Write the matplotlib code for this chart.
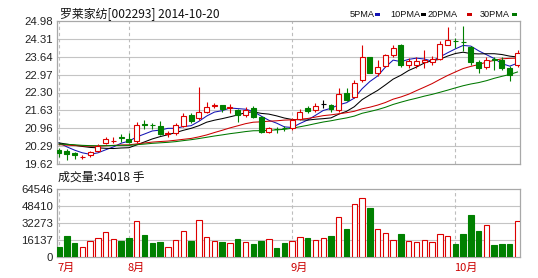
import numpy as np
import pandas as pd
import matplotlib
matplotlib.use("Agg")
import matplotlib.pyplot as plt
from matplotlib.patches import Rectangle

plt.rcParams['font.family'] = ['Noto Sans CJK SC', 'DejaVu Sans']

# ---- data -------------------------------------------------------------
title = "罗莱家纺[002293] 2014-10-20"
opens = [20.14, 20.11, 20.04, 19.88, 19.96, 20.12, 20.42, 20.48, 20.62, 20.56,
         20.50, 21.12, 21.09, 21.04, 20.76, 20.77, 21.06, 21.46, 21.33, 21.56,
         21.80, 21.83, 21.73, 21.64, 21.46, 21.71, 21.39, 20.83, 20.94, 20.98,
         20.96, 21.30, 21.73, 21.64, 21.87, 21.83, 21.64, 22.29, 22.14, 22.77,
         23.62, 23.02, 23.29, 23.71, 24.08, 23.33, 23.32, 23.44, 23.44, 23.56,
         24.09, 24.24, 24.20, 24.01, 23.44, 23.24, 23.54, 23.53, 23.22, 23.34]
highs = [20.21, 20.18, 20.08, 19.96, 20.11, 20.36, 20.62, 20.64, 20.73, 20.77,
         21.21, 21.27, 21.15, 21.24, 20.87, 21.17, 21.52, 21.53, 22.50, 21.96,
         21.92, 21.85, 21.87, 21.67, 21.77, 21.79, 21.42, 21.02, 21.02, 21.05,
         21.33, 21.67, 21.79, 21.90, 22.02, 21.87, 22.46, 22.46, 22.77, 24.08,
         23.64, 23.52, 23.74, 24.08, 24.12, 23.58, 23.62, 23.90, 23.66, 24.22,
         24.77, 24.34, 24.78, 24.04, 23.53, 23.62, 23.62, 23.62, 23.28, 23.89]
lows = [19.87, 19.77, 19.80, 19.82, 19.89, 20.06, 20.38, 20.40, 20.46, 20.40,
        20.42, 20.92, 20.92, 20.71, 20.64, 20.71, 21.02, 21.16, 21.27, 21.52,
        21.71, 21.58, 21.53, 21.21, 21.39, 21.33, 20.77, 20.77, 20.77, 20.86,
        20.89, 21.27, 21.52, 21.58, 21.71, 21.58, 21.58, 21.99, 22.08, 22.70,
        23.02, 22.92, 23.24, 23.64, 23.27, 23.22, 23.22, 23.21, 23.34, 23.52,
        24.07, 23.97, 23.86, 23.34, 23.03, 23.19, 23.14, 23.16, 22.72, 23.27]
closes = [20.02, 19.98, 19.96, 19.90, 20.06, 20.29, 20.55, 20.50, 20.60, 20.45,
          21.07, 21.10, 21.07, 20.76, 20.78, 21.08, 21.42, 21.24, 21.58, 21.77,
          21.82, 21.68, 21.75, 21.46, 21.66, 21.39, 20.83, 20.96, 20.92, 20.96,
          21.27, 21.58, 21.62, 21.79, 21.87, 21.68, 22.23, 22.02, 22.65, 23.62,
          23.04, 23.26, 23.69, 23.96, 23.33, 23.47, 23.49, 23.53, 23.57, 24.10,
          24.25, 24.22, 24.18, 23.44, 23.22, 23.53, 23.50, 23.22, 22.97, 23.78]
# closes of the 29 sessions before the window, needed for the moving averages
prior_closes = [20.30, 20.45, 20.52, 20.38, 20.47, 20.40, 20.35, 20.42, 20.48, 20.33,
                20.36, 20.25, 20.18, 20.22, 20.31, 20.27, 20.20, 20.29, 20.35, 20.37,
                20.44, 20.38, 20.35, 20.42, 20.46, 20.72, 20.58, 20.40, 20.34]
volumes = [9200, 19900, 13000, 9800, 15200, 17700, 23400, 16800, 15200, 17700,
           34200, 20900, 13600, 14200, 9200, 16100, 24700, 15500, 35100, 18700,
           15500, 14500, 13600, 17100, 14500, 12300, 15500, 16800, 8300, 13000,
           15200, 19300, 17700, 16100, 17700, 19900, 37700, 26600, 50000, 55700,
           46800, 26300, 22500, 16100, 21800, 15200, 14500, 16100, 14500, 21800,
           19900, 12300, 21800, 39900, 24700, 30400, 11400, 12300, 12300, 34018]
month_starts = [0, 9, 30, 51]
month_labels = ["7月", "8月", "9月", "10月"]
ma_periods = [5, 10, 20, 30]
ma_names = ["5PMA", "10PMA", "20PMA", "30PMA"]
price_min, price_max = 19.62, 24.98
vol_max = 64546

# ---- styling ----------------------------------------------------------
UP = '#DD0000'
DOWN = '#008000'
MA_COLORS = ['#1414B4', '#000000', '#CC0000', '#007800']
GRID = '#C4C4C4'
FRAME = '#A8A8A8'
W, H = 538, 278


def fx(px):
    return px / W


def fy(py):
    return 1 - py / H


fig = plt.figure(figsize=(W / 100, H / 100), dpi=100)
fig.patch.set_facecolor('white')

left_px, right_px = 57.3, 520
ax = fig.add_axes([fx(left_px), fy(164), (right_px - left_px) / W, (164 - 21) / H])
axv = fig.add_axes([fx(left_px), fy(257), (right_px - left_px) / W, (257 - 189) / H])

n = len(closes)
x = np.arange(n)
o = np.array(opens)
c = np.array(closes)
hi = np.array(highs)
lo = np.array(lows)
up = c >= o

xlim = (-0.22, n - 1 + 0.32)

for a in (ax, axv):
    a.set_xlim(*xlim)
    a.set_facecolor('white')
    for s in a.spines.values():
        s.set_color(FRAME)
        s.set_linewidth(0.9)
    a.set_xticks([])
    a.tick_params(axis='y', length=0, pad=3.0, labelsize=8.2, labelcolor='#222222')
    for m in month_starts:
        a.axvline(m, color='#BDBDBD', lw=0.8, ls=(0, (3, 2.5)), zorder=0.5)

# price panel
price_ticks = np.linspace(price_min, price_max, 9)
ax.set_ylim(price_min, price_max)
ax.set_yticks(price_ticks)
ax.set_yticklabels([f"{t:.2f}" for t in price_ticks], family='Liberation Sans')
for t in price_ticks[1:-1]:
    ax.axhline(t, color=GRID, lw=0.8, zorder=0.4)

# moving averages
all_close = pd.Series(prior_closes + closes)
for p, col in zip(ma_periods, MA_COLORS):
    ma = all_close.rolling(p).mean().to_numpy()[len(prior_closes):]
    ax.plot(x, ma, color=col, lw=0.75, zorder=2)

# candles
body_w = 0.64
for i in range(n):
    if o[i] == c[i]:
        col = '#000000'
    else:
        col = UP if up[i] else DOWN
    ax.vlines(i, lo[i], hi[i], color=col, lw=0.8, zorder=3)
    b = min(o[i], c[i])
    h = abs(c[i] - o[i])
    face = 'white' if (up[i] and o[i] != c[i]) else col
    ax.bar(i, h, bottom=b, width=body_w, color=face, edgecolor=col,
           linewidth=0.8, zorder=4)

# volume panel
vol_ticks = np.linspace(0, vol_max, 5)
axv.set_ylim(0, vol_max)
axv.set_yticks(vol_ticks)
axv.set_yticklabels([f"{int(np.floor(t + 0.5))}" for t in vol_ticks],
                    family='Liberation Sans')
for t in vol_ticks[1:-1]:
    axv.axhline(t, color=GRID, lw=0.8, zorder=0.4)
vcols = [UP if u else DOWN for u in up]
vface = ['white' if u else DOWN for u in up]
axv.bar(x, volumes, width=0.7, color=vface, edgecolor=vcols, linewidth=0.8, zorder=3)

# texts
fig.text(fx(60), fy(14.5), title, fontsize=8.6, va='center', ha='left', color='#111111')
fig.text(fx(57.5), fy(177.5), f"成交量:{volumes[-1]} 手", fontsize=8.6, va='center',
         ha='left', color='#111111')

# legend
leg_x = [349.5, 390.5, 427.5, 479.5]
dash_x = [374.5, 420.5, 467.0, 512.0]
for name, col, tx, dx in zip(ma_names, MA_COLORS, leg_x, dash_x):
    fig.text(fx(tx), fy(14.5), name, fontsize=6.6, va='center', ha='left',
             family='Liberation Sans', color='#111111')
    fig.add_artist(Rectangle((fx(dx), fy(15.8)), 5 / W, 2.8 / H,
                             transform=fig.transFigure, color=col, lw=0))

# month labels under the volume panel
for m, lab in zip(month_starts, month_labels):
    px = left_px + (m - xlim[0]) / (xlim[1] - xlim[0]) * (right_px - left_px)
    fig.text(fx(px - 1.5), fy(267.5), lab, fontsize=8, va='center', ha='left',
             color='#CC0000')

fig.savefig('out.png', dpi=100)
